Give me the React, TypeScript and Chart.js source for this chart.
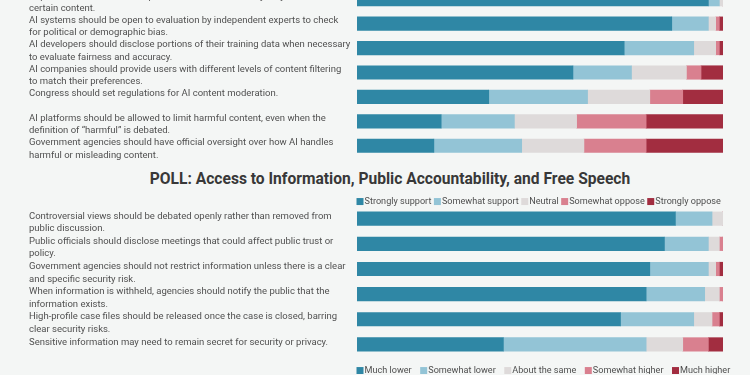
import React, { useEffect, useRef } from "react";
import { Chart, registerables } from "chart.js";

Chart.register(...registerables);

const FONT = "Roboto";

// ---------- data ----------
const supportLevels = ["Strongly support", "Somewhat support", "Neutral", "Somewhat oppose", "Strongly oppose"];
const changeLevels = ["Much lower", "Somewhat lower", "About the same", "Somewhat higher", "Much higher"];
const levelColors = ["#2f87a5", "#93c4d6", "#dedada", "#d9808f", "#a22d40"];

const aiStatements = [
  ["AI platforms should be transparent about when and why they restrict or remove", "certain content."],
  ["AI systems should be open to evaluation by independent experts to check", "for political or demographic bias."],
  ["AI developers should disclose portions of their training data when necessary", "to evaluate fairness and accuracy."],
  ["AI companies should provide users with different levels of content filtering", "to match their preferences."],
  ["Congress should set regulations for AI content moderation.", ""],
  ["AI platforms should be allowed to limit harmful content, even when the", "definition of \u201charmful\u201d is debated."],
  ["Government agencies should have official oversight over how AI handles", "harmful or misleading content."],
];
const aiStronglySupport = [96, 86, 73, 59, 36, 23, 21];
const aiSomewhatSupport = [3, 10, 19, 16, 27, 20, 24];
const aiNeutral = [1, 2, 6, 15, 17, 17, 17];
const aiSomewhatOppose = [0, 1, 1, 4, 9, 19, 17];
const aiStronglyOppose = [0, 1, 1, 6, 11, 21, 21];

const pollTitle = "POLL: Access to Information, Public Accountability, and Free Speech";

const infoStatements = [
  ["Controversial views should be debated openly rather than removed from", "public discussion."],
  ["Public officials should disclose meetings that could affect public trust or", "policy."],
  ["Government agencies should not restrict information unless there is a clear", "and specific security risk."],
  ["When information is withheld, agencies should notify the public that the", "information exists."],
  ["High-profile case files should be released once the case is closed, barring", "clear security risks."],
  ["Sensitive information may need to remain secret for security or privacy.", ""],
];
const infoStronglySupport = [87, 84, 80, 79, 72, 40];
const infoSomewhatSupport = [10, 12, 16, 16, 20, 39];
const infoNeutral = [3, 3, 2, 4, 5, 10];
const infoSomewhatOppose = [0, 1, 1, 1, 2, 7];
const infoStronglyOppose = [0, 0, 1, 0, 1, 4];

// ---------- helpers ----------
const legendPlace = {
  id: "legendPlace",
  afterLayout(chart: any, _args: any, opts: any) {
    const lg = chart.legend;
    if (!lg || opts == null || opts.left == null) return;
    const h = lg.bottom - lg.top;
    lg.left = opts.left;
    lg.right = chart.width + 400;
    lg.top += opts.dy || 0;
    lg.bottom = lg.top + h;
  },
};

function legendOpts(show: boolean, pad: number) {
  return {
    display: show,
    position: "top",
    align: "start",
    fullSize: true,
    labels: {
      usePointStyle: true,
      pointStyle: "rect",
      boxWidth: 0.01,
      boxHeight: 7,
      padding: pad,
      color: "#4f4f4f",
      font: { family: FONT, size: 9.1 },
    },
  };
}

function stackedConfig(
  labels: string[][],
  series: number[][],
  names: string[],
  labelOffset: number,
  bottomPad: number,
  legend: any,
  place: any
) {
  return {
    type: "bar",
    data: {
      labels,
      datasets: series.map((data, i) => ({
        label: names[i],
        data,
        backgroundColor: levelColors[i],
        borderWidth: 0,
        barThickness: 13.5,
        pointStyle: "rect",
      })),
    },
    options: {
      indexAxis: "y",
      responsive: false,
      animation: false,
      devicePixelRatio: 1,
      layout: { padding: { left: 29, right: 27, top: 0, bottom: bottomPad } },
      scales: {
        x: { stacked: true, min: 0, max: 100, display: false },
        y: {
          stacked: true,
          grid: { display: false },
          border: { display: false },
          afterFit: (s: any) => {
            s.width = 328;
            s.paddingTop = 0;
            s.paddingBottom = 0;
          },
          ticks: {
            crossAlign: "far",
            autoSkip: false,
            padding: 0,
            labelOffset,
            color: "#505050",
            font: { family: FONT, size: 9.5, lineHeight: 1.3 },
          },
        },
      },
      plugins: {
        legend,
        tooltip: { enabled: false },
        title: { display: false },
        legendPlace: place,
      },
    },
    plugins: [legendPlace],
  };
}

function ChartCanvas({ top, height, config }: { top: number; height: number; config: () => any }) {
  const ref = useRef<HTMLCanvasElement | null>(null);
  useEffect(() => {
    if (!ref.current) return;
    const chart = new Chart(ref.current, config());
    return () => chart.destroy();
  }, []);
  return (
    <canvas
      ref={ref}
      width={750}
      height={height}
      style={{ position: "absolute", left: 0, top, width: 750, height }}
    />
  );
}

export default function App() {
  const aiConfig = () =>
    stackedConfig(
      aiStatements,
      [aiStronglySupport, aiSomewhatSupport, aiNeutral, aiSomewhatOppose, aiStronglyOppose],
      supportLevels,
      3.2,
      8,
      legendOpts(false, 6),
      {}
    );
  const infoConfig = () =>
    stackedConfig(
      infoStatements,
      [infoStronglySupport, infoSomewhatSupport, infoNeutral, infoSomewhatOppose, infoStronglyOppose],
      supportLevels,
      4,
      0,
      legendOpts(true, 6),
      { left: 354, dy: 10 }
    );
  const nextConfig = () => ({
    type: "bar",
    data: {
      labels: [],
      datasets: changeLevels.map((name, i) => ({
        label: name,
        data: [],
        backgroundColor: levelColors[i],
        borderWidth: 0,
        pointStyle: "rect",
      })),
    },
    options: {
      indexAxis: "y",
      responsive: false,
      animation: false,
      devicePixelRatio: 1,
      layout: { padding: { left: 348, right: 0, top: 0, bottom: 0 } },
      scales: { x: { display: false }, y: { display: false } },
      plugins: { legend: legendOpts(true, 12), tooltip: { enabled: false } },
    },
  });

  return (
    <div
      style={{
        position: "fixed",
        left: 0,
        top: 0,
        width: 750,
        height: 375,
        overflow: "hidden",
        background: "#f4f6f5",
      }}
    >
      <ChartCanvas top={-13} height={179} config={aiConfig} />
      <div
        style={{
          position: "absolute",
          left: 30,
          width: 720,
          top: 169,
          lineHeight: "20px",
          textAlign: "center",
          fontFamily: FONT,
          fontWeight: 700,
          fontSize: 15.6,
          color: "#383838",
          whiteSpace: "nowrap",
        }}
      >
        {pollTitle}
      </div>
      <ChartCanvas top={181} height={176} config={infoConfig} />
      <ChartCanvas top={354} height={40} config={nextConfig} />
    </div>
  );
}
